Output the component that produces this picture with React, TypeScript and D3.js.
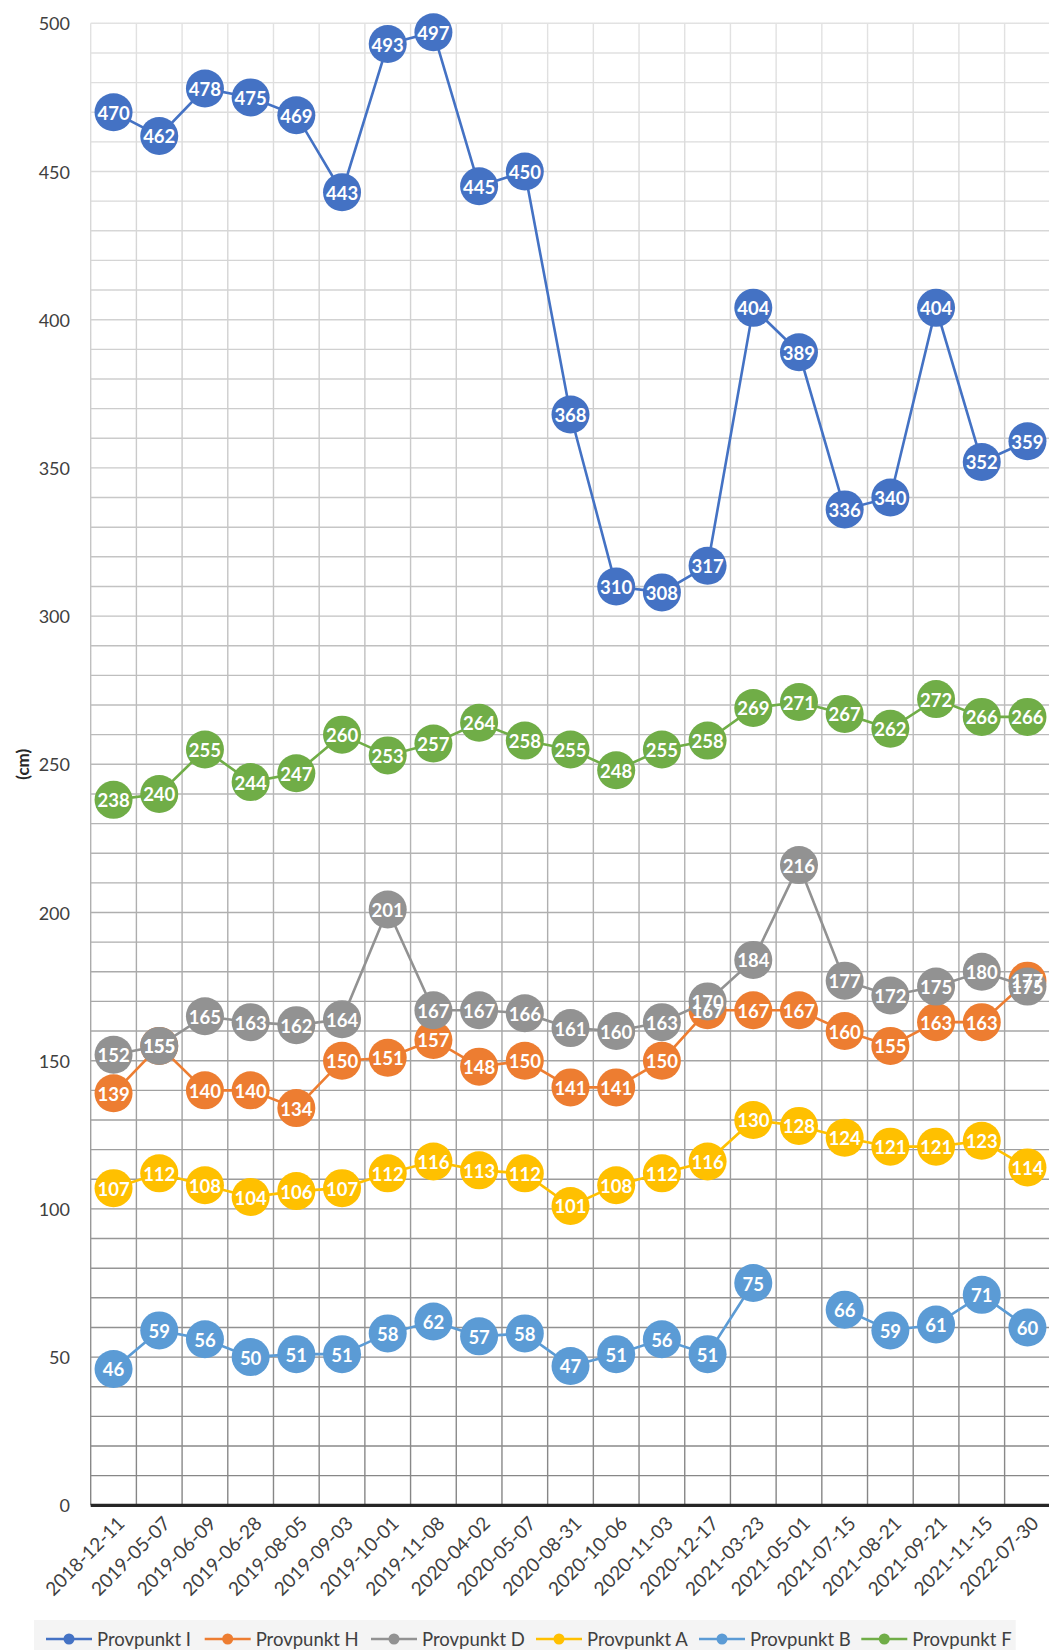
import React from "react";
import * as d3 from "d3";

const dates = [
  "2018-12-11", "2019-05-07", "2019-06-09", "2019-06-28", "2019-08-05", "2019-09-03",
  "2019-10-01", "2019-11-08", "2020-04-02", "2020-05-07", "2020-08-31", "2020-10-06",
  "2020-11-03", "2020-12-17", "2021-03-23", "2021-05-01", "2021-07-15", "2021-08-21",
  "2021-09-21", "2021-11-15", "2022-07-30",
];

const provI = [470, 462, 478, 475, 469, 443, 493, 497, 445, 450, 368, 310, 308, 317, 404, 389, 336, 340, 404, 352, 359];
const provH = [139, 155, 140, 140, 134, 150, 151, 157, 148, 150, 141, 141, 150, 167, 167, 167, 160, 155, 163, 163, 177];
const provD = [152, 155, 165, 163, 162, 164, 201, 167, 167, 166, 161, 160, 163, 170, 184, 216, 177, 172, 175, 180, 175];
const provA = [107, 112, 108, 104, 106, 107, 112, 116, 113, 112, 101, 108, 112, 116, 130, 128, 124, 121, 121, 123, 114];
const provB = [46, 59, 56, 50, 51, 51, 58, 62, 57, 58, 47, 51, 56, 51, 75, null, 66, 59, 61, 71, 60];
const provF = [238, 240, 255, 244, 247, 260, 253, 257, 264, 258, 255, 248, 255, 258, 269, 271, 267, 262, 272, 266, 266];

const seriesNames = ["Provpunkt I", "Provpunkt H", "Provpunkt D", "Provpunkt A", "Provpunkt B", "Provpunkt F"];
const seriesValues: (number | null)[][] = [provI, provH, provD, provA, provB, provF];
const seriesColors = ["#4472C4", "#ED7D31", "#929292", "#FFC000", "#5B9BD5", "#70AD47"];

const yTicks = [0, 50, 100, 150, 200, 250, 300, 350, 400, 450, 500];
const yMinor = d3.range(0, 501, 10);
const yLabel = "(cm)";

const W = 1049;
const H = 1650;
const FONT = "Lato, 'Open Sans', 'Noto Sans', sans-serif";

export default function App() {
  const plotLeft = 90.7;
  const plotRight = 1050.3;
  const plotTop = 23.3;
  const plotBottom = 1505.3;

  const x = d3.scaleBand<string>().domain(dates).range([plotLeft, plotRight]).padding(0);
  const y = d3.scaleLinear().domain([0, 500]).range([plotBottom, plotTop]);
  const cx = (i: number) => (x(dates[i]) as number) + x.bandwidth() / 2;

  const line = d3
    .line<number | null>()
    .defined((d) => d !== null)
    .x((_, i) => cx(i))
    .y((d) => y(d as number));

  const colors = seriesColors;
  const legendLineX = [46, 204.7, 371, 536, 699, 861.3];

  return (
    <svg
      width={W}
      height={H}
      style={{ position: "absolute", left: 0, top: 0, display: "block", background: "#fff" }}
      fontFamily={FONT}
    >
      <defs>
        <linearGradient id="gridGrad" gradientUnits="userSpaceOnUse" x1={0} y1={plotTop} x2={0} y2={plotBottom}>
          <stop offset="0" stopColor="#e2e2e2" />
          <stop offset="0.5" stopColor="#b9b9b9" />
          <stop offset="1" stopColor="#858585" />
        </linearGradient>
      </defs>

      {yMinor
        .filter((v) => v !== 0)
        .map((v) => (
          <line key={"h" + v} x1={plotLeft} x2={plotRight} y1={y(v)} y2={y(v)} stroke="url(#gridGrad)" strokeWidth={1.4} />
        ))}
      {d3.range(0, dates.length + 1).map((i) => {
        const xx = plotLeft + i * x.bandwidth();
        return (
          <rect key={"v" + i} x={xx - 0.7} y={plotTop} width={1.4} height={plotBottom - plotTop} fill="url(#gridGrad)" />
        );
      })}

      <line x1={plotLeft} x2={plotRight} y1={plotBottom} y2={plotBottom} stroke="#262626" strokeWidth={3.2} />

      {yTicks.map((v) => (
        <text key={"yt" + v} x={70} y={y(v)} textAnchor="end" dominantBaseline="central" fontSize={18} fill="#404040">
          {v}
        </text>
      ))}
      <text
        transform={`translate(22, ${y(250)}) rotate(-90)`}
        textAnchor="middle"
        dominantBaseline="central"
        fontSize={17}
        fontWeight="bold"
        fill="#262626"
      >
        {yLabel}
      </text>

      {dates.map((d, i) => (
        <text
          key={"xt" + d}
          transform={`translate(${cx(i) + 7}, ${plotBottom + 14}) rotate(-45)`}
          textAnchor="end"
          dominantBaseline="central"
          fontSize={19}
          fill="#404040"
        >
          {d}
        </text>
      ))}

      {seriesValues.map((vals, s) => (
        <g key={"s" + s}>
          <path d={line(vals) || ""} fill="none" stroke={colors[s]} strokeWidth={2.6} />
          {vals.map((v, i) =>
            v === null ? null : <circle key={i} cx={cx(i)} cy={y(v)} r={19} fill={colors[s]} />
          )}
        </g>
      ))}

      {seriesValues.map((vals, s) => (
        <g key={"l" + s}>
          {vals.map((v, i) =>
            v === null ? null : (
              <text
                key={i}
                x={cx(i)}
                y={y(v) + 0.5}
                textAnchor="middle"
                dominantBaseline="central"
                fontSize={18.5}
                fontWeight="bold"
                fill="#ffffff"
              >
                {v}
              </text>
            )
          )}
        </g>
      ))}

      <rect x={34} y={1620} width={981.7} height={32} fill="#f4f4f4" />
      {seriesNames.map((n, s) => {
        const lx = legendLineX[s];
        return (
          <g key={"lg" + s}>
            <line x1={lx} x2={lx + 46} y1={1639} y2={1639} stroke={colors[s]} strokeWidth={2.6} />
            <circle cx={lx + 23} cy={1639} r={5.5} fill={colors[s]} />
            <text x={lx + 51} y={1639} dominantBaseline="central" fontSize={18.5} fill="#404040">
              {n}
            </text>
          </g>
        );
      })}
    </svg>
  );
}
